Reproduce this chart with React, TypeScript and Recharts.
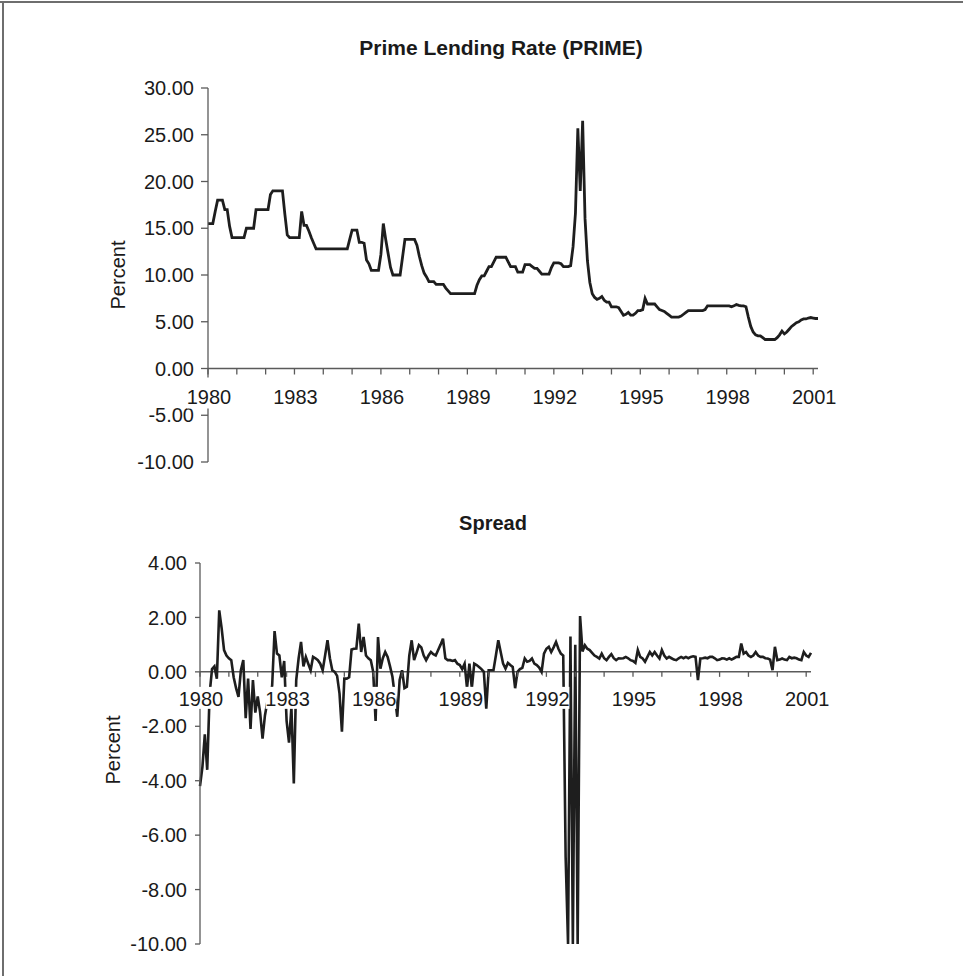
import { LineChart, Line, XAxis, YAxis, ReferenceLine } from 'recharts'

const START_YEAR = 1980
const FONT = '"Liberation Sans", Arial, Helvetica, sans-serif'
const TEXT = '#1a1a1a'
const AXIS_COLOR = '#5a5a5a'
const LINE_COLOR = '#1e1e1e'

const YEAR_TICKS = [
  1980, 1981, 1982, 1983, 1984, 1985, 1986, 1987, 1988, 1989, 1990,
  1991, 1992, 1993, 1994, 1995, 1996, 1997, 1998, 1999, 2000, 2001,
]
const PRIME_TICKS = [-10, -5, 0, 5, 10, 15, 20, 25, 30]
const SPREAD_TICKS = [-10, -8, -6, -4, -2, 0, 2, 4]

// monthly values, Jan 1980 .. Mar 2001, one row per year
const primeRate = [
  15.5, 15.5, 15.5, 16.8, 18.0, 18.0, 18.0, 17.0, 17.0, 15.2, 14.0, 14.0,
  14.0, 14.0, 14.0, 14.0, 15.0, 15.0, 15.0, 15.0, 17.0, 17.0, 17.0, 17.0,
  17.0, 17.0, 18.6, 19.0, 19.0, 19.0, 19.0, 19.0, 16.5, 14.3, 14.0, 14.0,
  14.0, 14.0, 14.0, 16.8, 15.3, 15.3, 14.7, 14.0, 13.4, 12.8, 12.8, 12.8,
  12.8, 12.8, 12.8, 12.8, 12.8, 12.8, 12.8, 12.8, 12.8, 12.8, 12.8, 13.8,
  14.8, 14.8, 14.8, 13.5, 13.5, 13.4, 11.6, 11.2, 10.5, 10.5, 10.5, 10.5,
  12.2, 15.5, 13.8, 12.3, 10.8, 10.0, 10.0, 10.0, 10.0, 11.9, 13.8, 13.8,
  13.8, 13.8, 13.8, 13.2, 12.0, 11.0, 10.2, 9.8, 9.3, 9.3, 9.3, 9.0,
  9.0, 9.0, 9.0, 8.6, 8.3, 8.0, 8.0, 8.0, 8.0, 8.0, 8.0, 8.0,
  8.0, 8.0, 8.0, 8.0, 8.9, 9.5, 9.9, 9.9, 10.4, 10.9, 10.9, 11.4,
  11.9, 11.9, 11.9, 11.9, 11.9, 11.4, 10.9, 10.9, 10.9, 10.3, 10.3, 10.3,
  11.1, 11.1, 11.1, 10.9, 10.7, 10.7, 10.4, 10.1, 10.1, 10.1, 10.1, 10.8,
  11.3, 11.3, 11.3, 11.2, 10.9, 10.9, 10.9, 11.0, 13.0, 16.6, 25.7, 19.0,
  26.5, 16.0, 11.5, 9.2, 8.0, 7.6, 7.4, 7.5, 7.7, 7.3, 7.1, 7.1,
  6.6, 6.6, 6.6, 6.5, 6.1, 5.7, 5.8, 6.0, 5.7, 5.7, 5.9, 6.2,
  6.2, 6.3, 7.5, 6.9, 6.9, 6.9, 6.9, 6.6, 6.3, 6.2, 6.1, 5.9,
  5.7, 5.5, 5.5, 5.5, 5.5, 5.6, 5.8, 6.0, 6.2, 6.2, 6.2, 6.2,
  6.2, 6.2, 6.2, 6.3, 6.7, 6.7, 6.7, 6.7, 6.7, 6.7, 6.7, 6.7,
  6.7, 6.7, 6.6, 6.7, 6.85, 6.75, 6.7, 6.7, 6.6, 5.5, 4.5, 3.9,
  3.6, 3.5, 3.5, 3.3, 3.1, 3.1, 3.1, 3.1, 3.1, 3.3, 3.6, 4.0,
  3.7, 3.9, 4.2, 4.5, 4.7, 4.9, 5.0, 5.2, 5.3, 5.3, 5.4, 5.45,
  5.4, 5.35, 5.35,
]

const spread = [
  -4.2, -3.5, -2.3, -3.6, -0.8, 0.1, 0.2, -0.25, 2.26, 1.6, 0.8, 0.6,
  0.5, 0.43, -0.2, -0.6, -0.92, 0.06, 0.43, -1.7, -0.25, -2.1, -0.3, -1.5,
  -0.9, -1.5, -2.45, -1.6, -1.1, -1.0, -0.5, 1.5, 0.67, 0.6, -0.2, 0.4,
  -1.8, -2.6, -1.3, -4.1, -0.3, 0.5, 1.1, 0.2, 0.55, 0.3, 0.06, 0.55,
  0.5, 0.43, 0.3, 0.06, 0.6, 1.16, 0.5, 0.06, 0.0, -0.15, -0.8, -2.2,
  -0.25, -0.25, -0.2, 0.82, 0.85, 0.86, 1.77, 0.73, 1.28, 0.6, 0.5, 0.43,
  0.0, -1.8, 1.28, 0.12, 0.5, 0.73, 0.55, 0.2, -0.18, -0.9, -1.65, -0.3,
  0.06, -0.6, -0.55, 0.6, 1.16, 0.43, 0.7, 0.98, 0.9, 0.6, 0.43, 0.6,
  0.73, 0.65, 0.6, 0.8, 1.0, 1.22, 0.5, 0.43, 0.43, 0.4, 0.43, 0.3,
  0.25, 0.1, 0.3, -0.6, 0.3, -0.6, 0.3, 0.25, 0.18, 0.1, 0.0, -1.35,
  0.06, 0.06, 0.06, 0.6, 1.16, 0.73, 0.3, 0.12, 0.33, 0.25, 0.18, -0.6,
  0.0, 0.1, 0.15, 0.49, 0.37, 0.4, 0.49, 0.3, 0.25, 0.16, 0.0, 0.67,
  0.85, 0.92, 0.73, 0.9, 1.1, 0.85, 0.67, 0.6, -6.8, -10, 1.3, -10,
  1.0, -10, 2.05, 0.75, 0.98, 0.85, 0.8, 0.7, 0.6, 0.55, 0.49, 0.67,
  0.5, 0.43, 0.55, 0.65, 0.5, 0.43, 0.5, 0.49, 0.5, 0.55, 0.5, 0.43,
  0.4, 0.33, 0.8, 0.55, 0.49, 0.37, 0.55, 0.73, 0.6, 0.73, 0.6, 0.49,
  0.8, 0.6, 0.49, 0.55, 0.5, 0.45, 0.43, 0.5, 0.55, 0.5, 0.55, 0.5,
  0.55, 0.57, 0.55, -0.3, 0.49, 0.5, 0.52, 0.5, 0.55, 0.55, 0.5, 0.43,
  0.45, 0.5, 0.49, 0.45, 0.5, 0.45, 0.5, 0.55, 0.55, 1.04, 0.67, 0.73,
  0.6, 0.55, 0.6, 0.73, 0.6, 0.55, 0.55, 0.5, 0.49, 0.45, 0.06, 0.92,
  0.43, 0.45, 0.49, 0.45, 0.43, 0.55, 0.5, 0.52, 0.5, 0.45, 0.43, 0.73,
  0.6, 0.55, 0.7,
]

const toSeries = (values: number[]) => values.map((v, i) => ({ t: START_YEAR + i / 12, v }))
const primeData = toSeries(primeRate)
const spreadData = toSeries(spread)
const X_DOMAIN: [number, number] = [START_YEAR, START_YEAR + (primeRate.length - 1) / 12]

interface TickGeom {
  zeroShift: number // px from plot bottom up to y=0
  tickLen: number
  labelDy: number
  boxTop: number
  boxBottom: number
}

// x axis sits on y=0 in the middle of the plot, so ticks are drawn shifted up
function yearTick(g: TickGeom) {
  return (props: any) => {
    const { x, y, payload } = props
    const year = payload.value as number
    const y0 = y - g.zeroShift
    const labelled = (year - START_YEAR) % 3 === 0
    return (
      <g>
        <line x1={x} x2={x} y1={y0} y2={y0 + g.tickLen} stroke={AXIS_COLOR} strokeWidth={1.3} />
        {labelled && (
          <g>
            <rect x={x + 1 - 22} y={y0 + g.boxTop} width={44} height={g.boxBottom - g.boxTop} fill="#fff" />
            <text
              x={x + 1}
              y={y0 + g.labelDy}
              textAnchor="middle"
              dominantBaseline="central"
              fontSize={20}
              fontFamily={FONT}
              fill={TEXT}
            >
              {year}
            </text>
          </g>
        )}
      </g>
    )
  }
}

const TOP_H = 480
const TOP_MARGIN = { top: 88, right: 145, bottom: 17, left: 128 }
const TOP_PLOT_H = TOP_H - TOP_MARGIN.top - TOP_MARGIN.bottom - 1
const TOP_ZERO = (TOP_PLOT_H * (0 - -10)) / (30 - -10)

const BOT_H = 496
const BOT_MARGIN = { top: 83, right: 152, bottom: 31, left: 120 }
const BOT_PLOT_H = BOT_H - BOT_MARGIN.top - BOT_MARGIN.bottom - 1
const BOT_ZERO = (BOT_PLOT_H * (0 - -10)) / (4 - -10)

function AxisTitle({ text, cx, cy }: { text: string; cx: number; cy: number }) {
  return (
    <div
      style={{
        position: 'absolute',
        left: cx - 60,
        top: cy - 11,
        width: 120,
        height: 22,
        lineHeight: '22px',
        textAlign: 'center',
        fontSize: 20,
        color: TEXT,
        transform: 'rotate(-90deg)',
      }}
    >
      {text}
    </div>
  )
}

function ChartTitle({ text, cx, top, size }: { text: string; cx: number; top: number; size: number }) {
  return (
    <div
      style={{
        position: 'absolute',
        left: cx - 250,
        top,
        width: 500,
        textAlign: 'center',
        fontSize: size,
        lineHeight: `${size}px`,
        fontWeight: 'bold',
        color: TEXT,
      }}
    >
      {text}
    </div>
  )
}

const yTickStyle = { fontSize: 20, fill: TEXT, fontFamily: FONT }

export default function App() {
  return (
    <div
      style={{
        position: 'absolute',
        left: 0,
        top: 0,
        width: 963,
        height: 976,
        background: '#fff',
        fontFamily: FONT,
        overflow: 'hidden',
      }}
    >
      <div style={{ position: 'absolute', left: 0, top: 1, width: 963, height: 2, background: '#6e6e6e' }} />
      <div style={{ position: 'absolute', left: 2, top: 1, width: 2, height: 975, background: '#6e6e6e' }} />

      <ChartTitle text="Prime Lending Rate (PRIME)" cx={501} top={37} size={21} />
      <ChartTitle text="Spread" cx={493} top={513} size={20} />

      <div style={{ position: 'absolute', left: 0, top: 0 }}>
        <LineChart width={963} height={TOP_H} data={primeData} margin={TOP_MARGIN}>
          <YAxis
            type="number"
            domain={[-10, 30]}
            ticks={PRIME_TICKS}
            interval={0}
            width={80}
            tickFormatter={(v: number) => v.toFixed(2)}
            tick={yTickStyle}
            tickSize={7}
            tickMargin={7}
            axisLine={{ stroke: AXIS_COLOR, strokeWidth: 1.3 }}
            tickLine={{ stroke: AXIS_COLOR, strokeWidth: 1.3 }}
          />
          <ReferenceLine y={0} stroke={AXIS_COLOR} strokeWidth={1.5} />
          <Line
            type="linear"
            dataKey="v"
            stroke={LINE_COLOR}
            strokeWidth={2.8}
            dot={false}
            isAnimationActive={false}
          />
          <XAxis
            type="number"
            dataKey="t"
            domain={X_DOMAIN}
            ticks={YEAR_TICKS}
            interval={0}
            height={1}
            axisLine={false}
            tickLine={false}
            tickSize={0}
            tickMargin={0}
            tick={yearTick({ zeroShift: TOP_ZERO, tickLen: 6, labelDy: 28.5, boxTop: 9, boxBottom: 40 })}
          />
        </LineChart>
      </div>
      <AxisTitle text="Percent" cx={118} cy={275} />

      <div style={{ position: 'absolute', left: 0, top: TOP_H }}>
        <LineChart width={963} height={BOT_H} data={spreadData} margin={BOT_MARGIN}>
          <YAxis
            type="number"
            domain={[-10, 4]}
            ticks={SPREAD_TICKS}
            interval={0}
            width={80}
            tickFormatter={(v: number) => v.toFixed(2)}
            tick={yTickStyle}
            tickSize={5}
            tickMargin={8}
            axisLine={{ stroke: AXIS_COLOR, strokeWidth: 1.3 }}
            tickLine={{ stroke: AXIS_COLOR, strokeWidth: 1.3 }}
          />
          <ReferenceLine y={0} stroke={AXIS_COLOR} strokeWidth={1.5} />
          <Line
            type="linear"
            dataKey="v"
            stroke={LINE_COLOR}
            strokeWidth={2.6}
            dot={false}
            isAnimationActive={false}
          />
          <XAxis
            type="number"
            dataKey="t"
            domain={X_DOMAIN}
            ticks={YEAR_TICKS}
            interval={0}
            height={1}
            axisLine={false}
            tickLine={false}
            tickSize={0}
            tickMargin={0}
            tick={yearTick({ zeroShift: BOT_ZERO, tickLen: 5, labelDy: 27, boxTop: 15, boxBottom: 37 })}
          />
        </LineChart>
      </div>
      <AxisTitle text="Percent" cx={113} cy={750} />
    </div>
  )
}
